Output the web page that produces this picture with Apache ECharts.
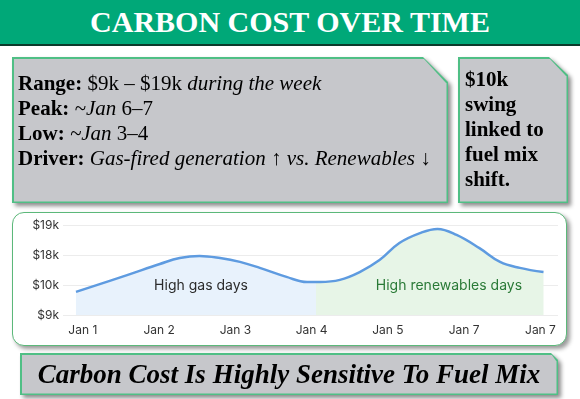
<!DOCTYPE html>
<html>
<head>
<meta charset="utf-8">
<script src="https://cdn.jsdelivr.net/npm/echarts@6/dist/echarts.min.js"></script>
<style>
  html, body { margin: 0; padding: 0; background: #fff; }
  body { width: 580px; height: 399px; position: relative; overflow: hidden; font-family: "Liberation Serif", serif; }
  .title { position: absolute; left: 0; top: 0; width: 580px; height: 44px; background: #00a878;
    border-bottom: 2px solid #0b3a2b; color: #fff; font-weight: bold; font-size: 30px;
    text-align: center; line-height: 44px; }
  .wrap { position: absolute; filter: drop-shadow(3px 3px 2px rgba(0,0,0,.45)); }
  .edge { position: absolute; inset: 0; background: #4fbf85; }
  .fill { position: absolute; inset: 1.5px; background: #c6c7cb; }
  .txt { position: absolute; color: #000; font-size: 21px; line-height: 25px; }
  .card { position: absolute; left: 12px; top: 212px; width: 553px; height: 132px; background: #fff;
    border: 1.5px solid #5cb87a; border-radius: 12px; box-shadow: 3px 3px 4px rgba(0,0,0,.4); }
  #chart { position: absolute; left: 0; top: 0; width: 580px; height: 399px; }
</style>
</head>
<body>
<div class="title">CARBON COST OVER TIME</div>

<div class="wrap" style="left:12px;top:57px;width:436px;height:146px;">
  <div class="edge" style="clip-path:polygon(0 0,411px 0,100% 25px,100% 100%,0 100%);"></div>
  <div class="fill" style="clip-path:polygon(0 0,410px 0,100% 25px,100% 100%,0 100%);"></div>
  <div class="txt" style="left:6px;top:14px;white-space:nowrap;">
    <b>Range:</b> $9k – $19k <i>during the week</i><br>
    <b>Peak:</b> <i>~Jan</i> 6–7<br>
    <b>Low:</b> <i>~Jan</i> 3–4<br>
    <b>Driver:</b> <i>Gas-fired generation</i> ↑ <i>vs. Renewables</i> ↓
  </div>
</div>

<div class="wrap" style="left:458px;top:57px;width:110px;height:146px;">
  <div class="edge" style="clip-path:polygon(0 0,91px 0,100% 18px,100% 100%,0 100%);"></div>
  <div class="fill" style="clip-path:polygon(0 0,90px 0,100% 18px,100% 100%,0 100%);"></div>
  <div class="txt" style="left:7px;top:10px;font-weight:bold;">$10k<br>swing<br>linked to<br>fuel mix<br>shift.</div>
</div>

<div class="card"></div>

<div class="wrap" style="left:20px;top:353px;width:538px;height:42px;">
  <div class="edge" style="clip-path:polygon(0 0,531px 0,100% 7px,100% 100%,0 100%);"></div>
  <div class="fill" style="clip-path:polygon(0 0,530px 0,100% 7px,100% 100%,0 100%);"></div>
  <div class="txt" style="left:0;top:0;width:538px;height:42px;line-height:42px;text-align:center;font-size:27px;font-weight:bold;font-style:italic;">Carbon Cost Is Highly Sensitive To Fuel Mix</div>
</div>

<div id="chart"></div>

<script>
// Carbon cost curve (x in days from Jan 1, y in tick steps)
const dayLabels = ['Jan 1', 'Jan 2', 'Jan 3', 'Jan 4', 'Jan 5', 'Jan 7', 'Jan 7'];
const costLabels = ['$9k', '$10k', '$18k', '$19k'];
const curveX = [-0.09, 0.58, 1.01, 1.27, 1.53, 1.80, 2.06, 2.32, 2.67, 2.94, 3.11, 3.37, 3.63, 3.89, 4.15, 4.42, 4.65, 4.90, 5.20, 5.47, 5.73, 6.04];
const curveY = [0.77, 1.33, 1.70, 1.90, 1.97, 1.90, 1.77, 1.57, 1.27, 1.10, 1.10, 1.17, 1.43, 1.83, 2.40, 2.73, 2.87, 2.67, 2.23, 1.77, 1.57, 1.43];
const noteText = ['High gas days', 'High renewables days'];
const noteX = [1.55, 4.8];
const noteY = [0.97, 0.97];
const noteColor = ['#2b2b2b', '#2a7a37'];

const chart = echarts.init(document.getElementById('chart'), null, { renderer: 'canvas' });
const font = 'Inter, "Noto Sans", sans-serif';

chart.setOption({
  animation: false,
  grid: { left: 63, right: 22, top: 225, bottom: 84 },
  xAxis: {
    type: 'value', min: -0.26, max: 6.23,
    axisLine: { show: false }, axisTick: { show: false }, splitLine: { show: false },
    axisLabel: { customValues: dayLabels.map((_, i) => i), formatter: v => dayLabels[Math.round(v)],
      color: '#333', fontSize: 12, fontFamily: font, margin: 9 },
  },
  yAxis: {
    type: 'value', min: 0, max: 3, interval: 1,
    axisLine: { show: false }, axisTick: { show: false },
    axisLabel: { formatter: v => costLabels[v], color: '#333', fontSize: 12, fontFamily: font, margin: 4 },
    splitLine: { lineStyle: { color: '#ececec', width: 1 } },
  },
  series: [{
    type: 'line', smooth: 0.4, showSymbol: false, z: 2,
    data: curveX.map((x, i) => [x, curveY[i]]),
    lineStyle: { color: '#5e9be0', width: 2.5 },
    areaStyle: { opacity: 1, color: new echarts.graphic.LinearGradient(0, 0, 1, 0, [
      { offset: 0, color: '#e8f2fc' }, { offset: 0.513, color: '#e8f2fc' },
      { offset: 0.513, color: '#e7f5e7' }, { offset: 1, color: '#e7f5e7' }]) },
  }, {
    type: 'scatter', symbolSize: 1, silent: true, z: 5,
    itemStyle: { color: 'rgba(0,0,0,0)', opacity: 1 },
    emphasis: { disabled: true },
    data: noteText.map((t, i) => ({ value: [noteX[i], noteY[i]], name: t,
      label: { color: noteColor[i] } })),
    label: { show: true, position: 'inside', opacity: 1, formatter: p => p.name,
      fontSize: 14, fontFamily: font, textBorderWidth: 0 },
  }],
});
</script>
</body>
</html>
